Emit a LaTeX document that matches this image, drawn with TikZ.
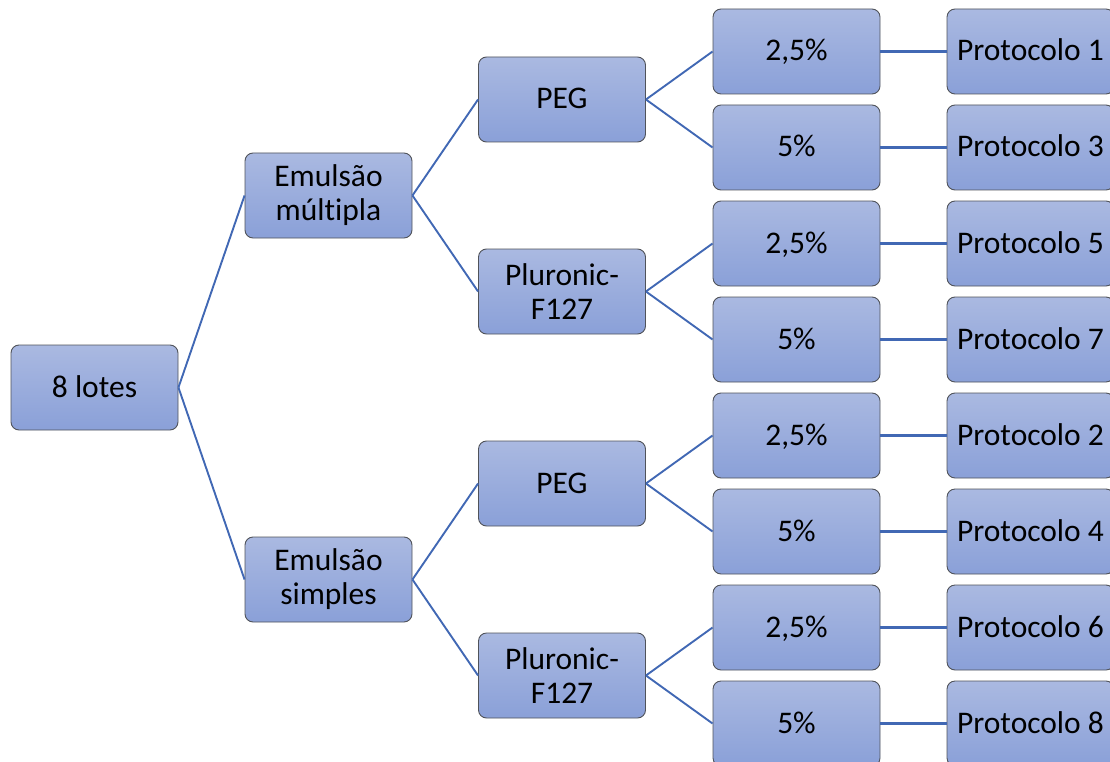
\documentclass[tikz,border=0pt]{standalone}
\usepackage{fontspec}
\setmainfont[Ligatures=NoCommon]{Carlito}
\definecolor{boxtop}{HTML}{AAB9E1}
\definecolor{boxbot}{HTML}{8AA0D8}
\definecolor{boxline}{HTML}{50535A}
\definecolor{edge}{HTML}{4168B4}
\begin{document}
\begin{tikzpicture}[x=1pt,y=-1pt,
  box/.style={draw=boxline, line width=0.9pt, rounded corners=8pt,
    top color=boxtop, bottom color=boxbot,
    minimum width=167pt, minimum height=85pt, inner sep=0pt,
    align=center, font=\fontsize{31.5}{34}\selectfont},
  one/.style={box, text height=22pt, text depth=3pt},
  link/.style={draw=edge, line width=1.9pt},
  hlink/.style={draw=edge, line width=2.6pt}]
\useasboundingbox (0,0) rectangle (1110,762);
\node[one] (root) at (94.5,387.5) {8 lotes};
\node[box] (em) at (328.5,195.5) {Emulsão\\múltipla};
\node[box] (es) at (328.5,579.5) {Emulsão\\simples};
\node[one] (p1) at (562,99.5) {PEG};
\node[box] (f1) at (562,291.5) {Pluronic-\\F127};
\node[one] (p2) at (562,483.5) {PEG};
\node[box] (f2) at (562,675.5) {Pluronic-\\F127};
\node[one] (c1) at (796.5,51.5) {2,5\%};
\node[one] (c2) at (796.5,147.5) {5\%};
\node[one] (c3) at (796.5,243.5) {2,5\%};
\node[one] (c4) at (796.5,339.5) {5\%};
\node[one] (c5) at (796.5,435.5) {2,5\%};
\node[one] (c6) at (796.5,531.5) {5\%};
\node[one] (c7) at (796.5,627.5) {2,5\%};
\node[one] (c8) at (796.5,723.5) {5\%};
\node[one] (r1) at (1030.5,51.5) {Protocolo 1};
\node[one] (r2) at (1030.5,147.5) {Protocolo 3};
\node[one] (r3) at (1030.5,243.5) {Protocolo 5};
\node[one] (r4) at (1030.5,339.5) {Protocolo 7};
\node[one] (r5) at (1030.5,435.5) {Protocolo 2};
\node[one] (r6) at (1030.5,531.5) {Protocolo 4};
\node[one] (r7) at (1030.5,627.5) {Protocolo 6};
\node[one] (r8) at (1030.5,723.5) {Protocolo 8};
\path[link] (root.east) -- (em.west);
\path[link] (root.east) -- (es.west);
\path[link] (em.east) -- (p1.west);
\path[link] (em.east) -- (f1.west);
\path[link] (es.east) -- (p2.west);
\path[link] (es.east) -- (f2.west);
\path[link] (p1.east) -- (c1.west);
\path[link] (p1.east) -- (c2.west);
\path[link] (f1.east) -- (c3.west);
\path[link] (f1.east) -- (c4.west);
\path[link] (p2.east) -- (c5.west);
\path[link] (p2.east) -- (c6.west);
\path[link] (f2.east) -- (c7.west);
\path[link] (f2.east) -- (c8.west);
\path[hlink] (c1.east) -- (r1.west);
\path[hlink] (c2.east) -- (r2.west);
\path[hlink] (c3.east) -- (r3.west);
\path[hlink] (c4.east) -- (r4.west);
\path[hlink] (c5.east) -- (r5.west);
\path[hlink] (c6.east) -- (r6.west);
\path[hlink] (c7.east) -- (r7.west);
\path[hlink] (c8.east) -- (r8.west);
\end{tikzpicture}
\end{document}
